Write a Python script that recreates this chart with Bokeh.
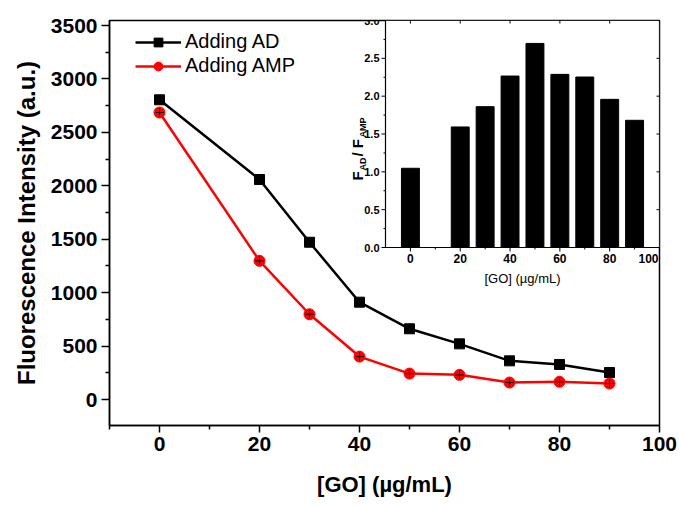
import numpy as np
from bokeh.plotting import figure
from bokeh.models import (Range1d, FixedTicker, Legend, LegendItem,
                          ColumnDataSource, Whisker, TeeHead)
from bokeh.core.properties import value
from bokeh.embed import file_html
from bokeh.resources import INLINE

# ---------------- data ----------------
go_conc = [0, 20, 30, 40, 50, 60, 70, 80, 90]
fl_adding_ad = [2805, 2059, 1472, 911, 662, 521, 362, 328, 253]
fl_adding_amp = [2686, 1298, 798, 402, 243, 231, 159, 166, 150]
ratio = [1.047, 1.593, 1.861, 2.266, 2.697, 2.288, 2.253, 1.958, 1.681]
ratio_err = [0.01, 0.01, 0.01, 0.03, 0.015, 0.066, 0.06, 0.04, 0.027]

main_xticks = [0, 20, 40, 60, 80, 100]
main_xminor = [-10, 10, 30, 50, 70, 90]
main_yticks = [0, 500, 1000, 1500, 2000, 2500, 3000, 3500]
main_yminor = [250, 750, 1250, 1750, 2250, 2750, 3250]
inset_xticks = [0, 20, 40, 60, 80, 100]
inset_xlabels = ["0", "20", "40", "60", "80", "100"]
inset_xminor = [10, 30, 50, 70, 90]
inset_yticks = [0.0, 0.5, 1.0, 1.5, 2.0, 2.5, 3.0]
inset_ylabels = ["0.0", "0.5", "1.0", "1.5", "2.0", "2.5", "3.0"]
inset_yminor = [0.25, 0.75, 1.25, 1.75, 2.25, 2.75]
main_xlim = (-10, 100)
main_ylim = (-243, 3547)
inset_xlim = (-10, 100)
inset_ylim = (0.0, 3.0)

FONT = "Liberation Sans"

# ---------------- layout (figure pixels) ----------------
W, H = 679, 505
FL, FR, FT, FB = 109, 659, 20, 425          # main frame
IL, IR, IT, IB = 385, 659, 20, 247          # inset frame

p = figure(width=W, height=H, x_range=Range1d(*main_xlim), y_range=Range1d(*main_ylim),
           output_backend="svg", toolbar_location=None,
           min_border_left=FL, min_border_right=W - FR,
           min_border_top=FT, min_border_bottom=H - FB)
p.xgrid.visible = False
p.ygrid.visible = False
p.outline_line_color = "black"
p.outline_line_width = 1.5
p.background_fill_color = "white"
p.border_fill_color = "white"

# main axes
ya = p.yaxis[0]
ya.ticker = FixedTicker(ticks=main_yticks, minor_ticks=main_yminor)
xa = p.xaxis[0]
xa.ticker = FixedTicker(ticks=main_xticks, minor_ticks=main_xminor)
for ax in (xa, ya):
    ax.axis_line_width = 1.5
    ax.major_tick_line_width = 1.5
    ax.minor_tick_line_width = 1.5
    ax.major_tick_in = 0
    ax.minor_tick_in = 0
    ax.major_label_text_font = FONT
    ax.major_label_text_font_style = "bold"
    ax.major_label_text_font_size = "21px"
    ax.major_label_text_color = "black"
    ax.axis_label_text_font = FONT
    ax.axis_label_text_font_style = "bold"
    ax.axis_label_text_color = "black"
ya.major_tick_out = 8
ya.minor_tick_out = 4
ya.major_label_standoff = 4
xa.major_tick_out = 7
xa.minor_tick_out = 4
xa.major_label_standoff = 4
ya.axis_label = "Fluorescence Intensity (a.u.)"
ya.axis_label_text_font_size = "24px"
ya.axis_label_standoff = 8
xa.axis_label = "[GO] (µg/mL)"
xa.axis_label_text_font_size = "22px"
xa.axis_label_standoff = 18

# main series
l1 = p.line(go_conc, fl_adding_ad, line_color="black", line_width=2.5)
s1 = p.scatter(go_conc, fl_adding_ad, marker="square", size=10, fill_color="black",
               line_color="black")
l2 = p.line(go_conc, fl_adding_amp, line_color="#ff0000", line_width=2.5)
s2 = p.scatter(go_conc, fl_adding_amp, marker="circle", size=11, fill_color="#ff0000",
               line_color="#ff0000")
p.scatter(go_conc, fl_adding_amp, marker="cross", size=9, line_color="black", line_width=1)

legend = Legend(items=[LegendItem(label="Adding AD", renderers=[l1, s1]),
                       LegendItem(label="Adding AMP", renderers=[l2, s2])],
                location=(26, 348), margin=0, padding=0, spacing=1,
                glyph_width=46, glyph_height=22, label_standoff=4,
                label_text_font=FONT, label_text_font_size="20px",
                label_text_color="black", border_line_color=None,
                background_fill_alpha=0)
p.add_layout(legend)

# ---------------- inset (drawn with its own ranges) ----------------
ppx = (IR - IL) / (inset_xlim[1] - inset_xlim[0])
ppy = (IB - IT) / (inset_ylim[1] - inset_ylim[0])
ix0 = inset_xlim[0] - (IL - FL) / ppx
ix1 = inset_xlim[1] + (FR - IR) / ppx
iy0 = inset_ylim[0] - (FB - IB) / ppy
iy1 = inset_ylim[1] + (IT - FT) / ppy
p.extra_x_ranges = {"ix": Range1d(ix0, ix1)}
p.extra_y_ranges = {"iy": Range1d(iy0, iy1)}
R = dict(x_range_name="ix", y_range_name="iy")

p.quad(left=[inset_xlim[0]], right=[inset_xlim[1]], bottom=[inset_ylim[0]], top=[inset_ylim[1]],
       fill_color="white", line_color="black", line_width=1.2, **R)
p.vbar(x=go_conc, top=ratio, bottom=0, width=7.2, fill_color="black", line_color="black", **R)
src = ColumnDataSource(dict(x=go_conc,
                            lo=[r - e for r, e in zip(ratio, ratio_err)],
                            hi=[r + e for r, e in zip(ratio, ratio_err)]))
p.add_layout(Whisker(base="x", lower="lo", upper="hi", source=src, line_color="black",
                     line_width=1, upper_head=TeeHead(size=6, line_color="black", line_width=1),
                     lower_head=TeeHead(size=6, line_color="black", line_width=1), **R))

# inset ticks
n = len(inset_yticks)
p.ray(x=[inset_xlim[0]] * n, y=inset_yticks, length=4, length_units="screen", angle=np.pi,
      line_color="black", line_width=1, **R)
p.ray(x=[inset_xlim[0]] * len(inset_yminor), y=inset_yminor, length=2, length_units="screen",
      angle=np.pi, line_color="black", line_width=1, **R)
p.ray(x=[inset_xlim[1]] * n, y=inset_yticks, length=3, length_units="screen", angle=np.pi,
      line_color="black", line_width=1, **R)
p.ray(x=inset_xticks, y=[inset_ylim[0]] * len(inset_xticks), length=4, length_units="screen",
      angle=-np.pi / 2, line_color="black", line_width=1, **R)
p.ray(x=inset_xminor, y=[inset_ylim[0]] * len(inset_xminor), length=2, length_units="screen",
      angle=-np.pi / 2, line_color="black", line_width=1, **R)
p.ray(x=inset_xticks, y=[inset_ylim[1]] * len(inset_xticks), length=3, length_units="screen",
      angle=-np.pi / 2, line_color="black", line_width=1, **R)

p.text(x=[inset_xlim[0]] * n, y=inset_yticks, text=inset_ylabels, x_offset=-6,
       text_align="right", text_baseline="middle", text_font=value(FONT),
       text_font_style="bold", text_font_size="11px", text_color="black", **R)
# last x label is shifted left so it is not clipped by the frame edge
xoffs = [0] * (len(inset_xticks) - 1) + [-11]
p.text(x=inset_xticks, y=[inset_ylim[0]] * len(inset_xticks), text=inset_xlabels, y_offset=6,
       x_offset=xoffs, text_align="center", text_baseline="top", text_font=value(FONT),
       text_font_style="bold", text_font_size="12px", text_color="black", **R)
p.text(x=[sum(inset_xlim) / 2], y=[inset_ylim[0]], text=["[GO] (µg/mL)"], y_offset=23,
       text_align="center", text_baseline="top", text_font=value(FONT),
       text_font_size="13px", text_color="black", **R)

# inset y label: F_AD / F_AMP (rotated, built from pieces)
ly = inset_ylim[0] + (IB - 180) / ppy
parts = [("F", 0, 0, "15px"), ("AD", 10, 5, "9px"), ("/ F", 24, 0, "15px"), ("AMP", 43, 5, "9px")]
for txt, adv, sub, fs in parts:
    p.text(x=[inset_xlim[0]], y=[ly], text=[txt], x_offset=-28 + sub, y_offset=-adv,
           angle=np.pi / 2, text_align="left", text_baseline="alphabetic",
           text_font=value(FONT), text_font_style="bold", text_font_size=fs,
           text_color="black", **R)

open("out.html", "w").write(file_html(p, INLINE))
